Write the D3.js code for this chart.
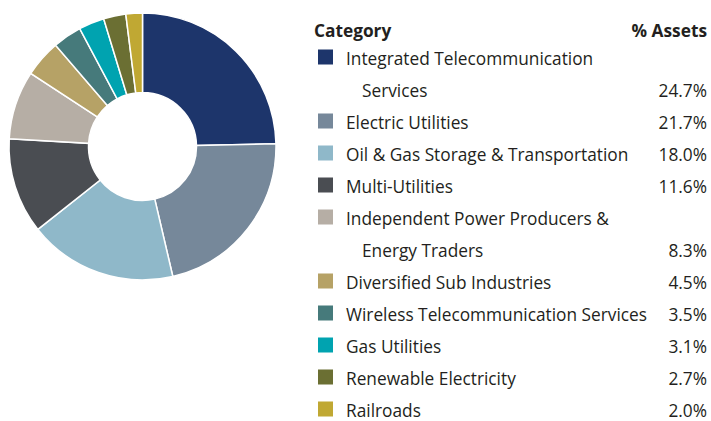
<!DOCTYPE html>
<html>
<head>
  <meta charset="utf-8">
  <title>Sector allocation</title>
  <script src="https://cdn.jsdelivr.net/npm/d3@7"></script>
  <style>
    body { margin: 0; background: #fff; }
    text { font-family: "Open Sans", "Noto Sans", sans-serif; fill: #231f20; }
  </style>
</head>
<body>
  <svg width="711" height="421" id="mainsvg"></svg>
  <script>
    const svg = d3.select('svg');

    // data
    const categories = [
      ["Integrated Telecommunication", "Services"],
      ["Electric Utilities"],
      ["Oil & Gas Storage & Transportation"],
      ["Multi-Utilities"],
      ["Independent Power Producers &", "Energy Traders"],
      ["Diversified Sub Industries"],
      ["Wireless Telecommunication Services"],
      ["Gas Utilities"],
      ["Renewable Electricity"],
      ["Railroads"]
    ];
    const values = [24.7, 21.7, 18.0, 11.6, 8.3, 4.5, 3.5, 3.1, 2.7, 2.0];
    const colors = ["#1d356b", "#76889a", "#8fb8c9", "#4a4d52", "#b6aea5",
                    "#b6a266", "#467a7b", "#00a3b0", "#6b6f33", "#c0a833"];
    const headers = ["Category", "% Assets"];

    const data = values.map((v, i) => ({ label: categories[i], value: v, color: colors[i] }));

    // donut
    const pie = d3.pie().sort(null).value(d => d.value);
    const arc = d3.arc().innerRadius(54).outerRadius(133.5);

    svg.append('g')
      .attr('transform', 'translate(142.5, 146.5)')
      .selectAll('path')
      .data(pie(data))
      .join('path')
      .attr('d', arc)
      .attr('fill', d => d.data.color)
      .attr('stroke', '#fff')
      .attr('stroke-width', 1.5);

    // legend table
    const legend = svg.append('g');
    const rowH = 32;
    const fontSize = 17.3;
    const textX = 346, swatchX = 318, rightX = 707;

    legend.append('text').attr('x', 314).attr('y', 37)
      .attr('font-size', fontSize).attr('font-weight', 'bold').text(headers[0]);
    legend.append('text').attr('x', rightX).attr('y', 37).attr('text-anchor', 'end')
      .attr('font-size', fontSize).attr('font-weight', 'bold').text(headers[1]);

    let line = 0;
    data.forEach(d => {
      const y0 = 64.5 + line * rowH;
      legend.append('rect')
        .attr('x', swatchX).attr('y', y0 - 15)
        .attr('width', 15).attr('height', 15)
        .attr('fill', d.color);
      d.label.forEach((t, j) => {
        legend.append('text')
          .attr('x', j === 0 ? textX : textX + 16)
          .attr('y', y0 + j * rowH)
          .attr('font-size', fontSize)
          .text(t);
      });
      const last = y0 + (d.label.length - 1) * rowH;
      legend.append('text')
        .attr('x', rightX).attr('y', last)
        .attr('text-anchor', 'end')
        .attr('font-size', fontSize)
        .text(d3.format('.1f')(d.value) + '%');
      line += d.label.length;
    });
  </script>
</body>
</html>
